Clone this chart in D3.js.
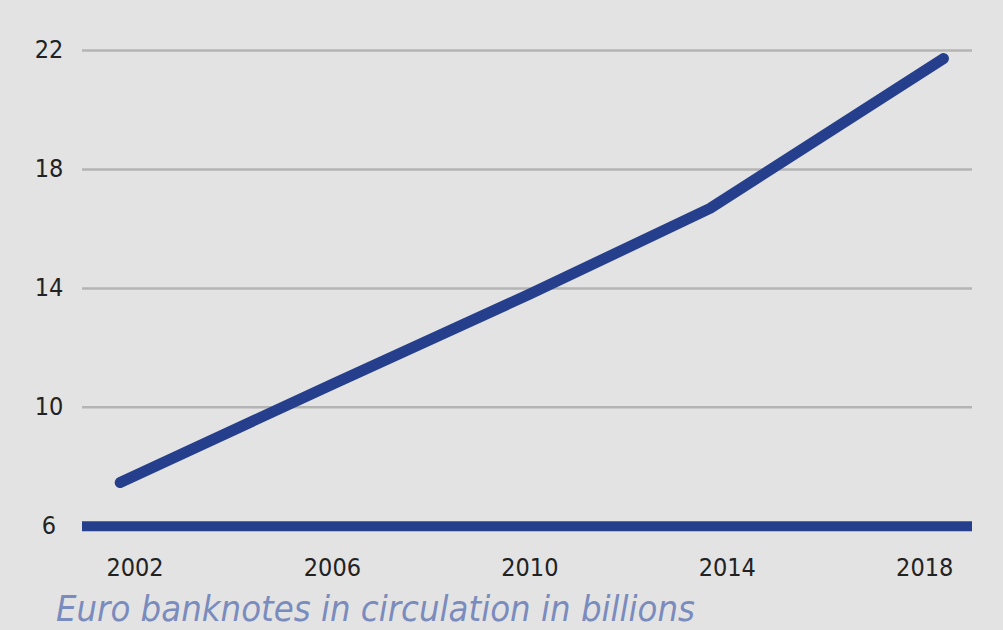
<!DOCTYPE html>
<html>
<head>
<meta charset="utf-8">
<script src="https://d3js.org/d3.v7.min.js"></script>
<style>
  body { margin: 0; background: #e3e3e3; }
  svg { display: block; }
</style>
</head>
<body>
<svg width="1003" height="630"></svg>
<script>
  // data (years as decimal positions along the axis)
  var years = [2001.7, 2006, 2010, 2013.65, 2018.38];
  var notes = [7.47, 10.78, 13.81, 16.69, 21.73];
  var xTicks = [2002, 2006, 2010, 2014, 2018];
  var yTicks = [6, 10, 14, 18, 22];
  var title = "Euro banknotes in circulation in billions";

  var svg = d3.select("svg"),
    width = +svg.attr("width"),
    height = +svg.attr("height");

  var blue = "#263f8c";
  var font = "'DejaVu Sans Condensed', 'DejaVu Sans', sans-serif";

  svg.append("rect")
    .attr("width", width).attr("height", height)
    .attr("fill", "#e3e3e3");

  var plotLeft = 82, plotRight = 972;

  var xscale = d3.scaleLinear()
    .domain([2002, 2018])
    .range([135, 924.7]);

  var yscale = d3.scaleLinear()
    .domain([6, 22])
    .range([526.3, 50.5]);

  // gridlines
  var gGrid = svg.append("g");
  gGrid.selectAll("line")
    .data(yTicks.filter(function(d) { return d > 6; }))
    .enter().append("line")
    .attr("x1", plotLeft)
    .attr("x2", plotRight)
    .attr("y1", function(d) { return yscale(d); })
    .attr("y2", function(d) { return yscale(d); })
    .attr("stroke", "#b4b4b4")
    .attr("stroke-width", 2.5);

  // y labels
  svg.append("g").selectAll("text")
    .data(yTicks).enter().append("text")
    .attr("x", 49)
    .attr("y", function(d) { return yscale(d) + 7.5; })
    .attr("text-anchor", "middle")
    .attr("font-family", font)
    .attr("font-size", 25)
    .attr("fill", "#222")
    .text(function(d) { return d; });

  // baseline
  svg.append("line")
    .attr("x1", plotLeft)
    .attr("x2", plotRight)
    .attr("y1", yscale(6))
    .attr("y2", yscale(6))
    .attr("stroke", blue)
    .attr("stroke-width", 10);

  // x labels
  svg.append("g").selectAll("text")
    .data(xTicks).enter().append("text")
    .attr("x", function(d) { return xscale(d); })
    .attr("y", 576)
    .attr("text-anchor", "middle")
    .attr("font-family", font)
    .attr("font-size", 25)
    .attr("fill", "#222")
    .text(function(d) { return d; });

  // the line
  var line = d3.line()
    .x(function(d) { return xscale(d[0]); })
    .y(function(d) { return yscale(d[1]); });

  svg.append("path")
    .datum(d3.zip(years, notes))
    .attr("d", line)
    .attr("fill", "none")
    .attr("stroke", blue)
    .attr("stroke-width", 11)
    .attr("stroke-linecap", "round")
    .attr("stroke-linejoin", "round");

  // caption
  svg.append("text")
    .attr("x", 56)
    .attr("y", 621)
    .attr("font-family", font)
    .attr("font-style", "italic")
    .attr("font-size", 35)
    .attr("fill", "#7a8bbd")
    .attr("textLength", 639)
    .attr("lengthAdjust", "spacingAndGlyphs")
    .text(title);
</script>
</body>
</html>
